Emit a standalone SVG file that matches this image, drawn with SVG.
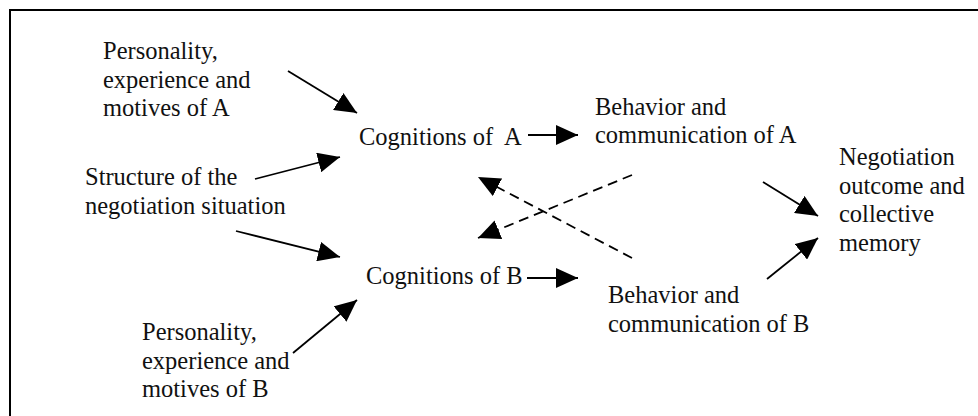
<svg xmlns="http://www.w3.org/2000/svg" width="978" height="416" viewBox="0 0 978 416">
<defs>
<marker id="ah" markerUnits="userSpaceOnUse" markerWidth="22" markerHeight="20" refX="22" refY="10" orient="auto">
<path d="M0,0 L22,10 L0,20 z" fill="#000" stroke="none"/>
</marker>
<style>
text{font-size:24.5px;fill:#111;}
.c{stroke:#000;stroke-width:1.8;fill:none;marker-end:url(#ah);}
.d{stroke-dasharray:10,6;}
</style>
</defs>
<rect x="10" y="10" width="990" height="430" fill="#fff" stroke="#000" stroke-width="2"/>
<g font-family="Liberation Serif, Times New Roman, Noto Serif, DejaVu Serif, serif">
<g id="personality-a"><text x="103" y="59">Personality,</text><text x="103" y="87.5">experience and</text><text x="103" y="116">motives of A</text></g>
<g id="structure"><text x="85" y="185">Structure of the</text><text x="85" y="213.5">negotiation situation</text></g>
<g id="personality-b"><text x="142" y="340">Personality,</text><text x="142" y="368.5">experience and</text><text x="142" y="397">motives of B</text></g>
<g id="cognitions-a"><text x="359" y="145" xml:space="preserve">Cognitions of  A</text></g>
<g id="cognitions-b"><text x="366" y="284">Cognitions of B</text></g>
<g id="behavior-a"><text x="595" y="115">Behavior and</text><text x="595" y="143">communication of A</text></g>
<g id="behavior-b"><text x="608" y="303">Behavior and</text><text x="608" y="332">communication of B</text></g>
<g id="outcome"><text x="839" y="165">Negotiation</text><text x="839" y="193.5">outcome and</text><text x="839" y="222">collective</text><text x="839" y="250.5">memory</text></g>
</g>
<g id="connectors">
<line class="c" x1="288" y1="71" x2="357" y2="113"/>
<line class="c" x1="255" y1="179" x2="340" y2="157"/>
<line class="c" x1="236" y1="231" x2="340" y2="257"/>
<line class="c" x1="293" y1="353" x2="357" y2="300"/>
<line class="c" x1="528" y1="135" x2="578" y2="135"/>
<line class="c" x1="527" y1="278" x2="578" y2="278"/>
<line class="c d" x1="632" y1="258" x2="478" y2="177"/>
<line class="c d" x1="632" y1="175" x2="478" y2="238"/>
<line class="c" x1="763" y1="182" x2="818" y2="216"/>
<line class="c" x1="767" y1="279" x2="818" y2="238"/>
</g>
</svg>
